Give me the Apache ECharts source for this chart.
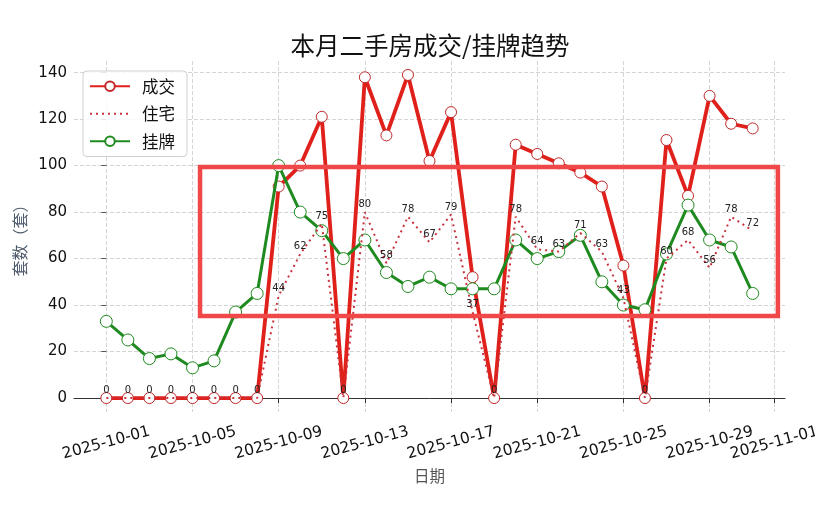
<!DOCTYPE html>
<html>
<head>
<meta charset="utf-8">
<script src="https://cdn.jsdelivr.net/npm/echarts@6/dist/echarts.min.js"></script>
<style>html,body{margin:0;padding:0;background:#fff}#c{width:815px;height:524px}</style>
</head>
<body>
<div id="c"></div>
<script>
const dates = ['2025-10-01','2025-10-02','2025-10-03','2025-10-04','2025-10-05','2025-10-06','2025-10-07','2025-10-08','2025-10-09','2025-10-10','2025-10-11','2025-10-12','2025-10-13','2025-10-14','2025-10-15','2025-10-16','2025-10-17','2025-10-18','2025-10-19','2025-10-20','2025-10-21','2025-10-22','2025-10-23','2025-10-24','2025-10-25','2025-10-26','2025-10-27','2025-10-28','2025-10-29','2025-10-30','2025-10-31'];
const deals = [0,0,0,0,0,0,0,0,91,100,121,0,138,113,139,102,123,52,0,109,105,101,97,91,57,0,111,87,130,118,116];
const residential = [0,0,0,0,0,0,0,0,44,62,75,0,80,58,78,67,79,37,0,78,64,63,71,63,43,0,60,68,56,78,72];
const listings = [33,25,17,19,13,16,37,45,100,80,72,60,68,54,48,52,47,47,47,68,60,63,70,50,40,38,62,83,68,65,45];
const xTickDates = ['2025-10-01','2025-10-05','2025-10-09','2025-10-13','2025-10-17','2025-10-21','2025-10-25','2025-10-29','2025-11-01'];
const yTicks = [0,20,40,60,80,100,120,140];

const DAY = 86400000;
const base = Date.parse(dates[0]);
const off = d => Math.round((Date.parse(d) - base) / DAY);
const xTicks = xTickDates.map(off);
const tickLabel = {};
xTickDates.forEach(d => { tickLabel[off(d)] = d; });

const FONT = 'Noto Sans CJK SC';
const NUMFONT = 'DejaVu Sans';
const RED = '#e0201b';
const GREEN = '#1f8a1f';
const DOT = '#c8323c';

const chart = echarts.init(document.getElementById('c'), null, {renderer: 'canvas'});
const option = {
  animation: false,
  backgroundColor: '#fff',
  textStyle: {fontFamily: FONT},
  title: {
    text: '本月二手房成交/挂牌趋势',
    left: 425, top: 28, textAlign: 'center',
    textStyle: {fontFamily: FONT, fontSize: 24.5, fontWeight: 'normal', color: '#111'}
  },
  legend: {
    orient: 'vertical', left: 83, top: 71,
    padding: [7, 12, 7, 6], itemGap: 11, itemWidth: 40, itemHeight: 12,
    borderColor: '#d0d0d0', borderWidth: 1, borderRadius: 4,
    backgroundColor: 'rgba(255,255,255,0.85)',
    textStyle: {fontFamily: FONT, fontSize: 16.5, color: '#111', padding: [0, 0, 0, 7]},
    data: ['成交', '住宅', '挂牌']
  },
  grid: {left: 74, right: 30, top: 61, bottom: 112, containLabel: false, outerBoundsMode: 'none'},
  xAxis: {
    type: 'value', min: -1.5, max: 31.5,
    name: '日期', nameLocation: 'middle', nameGap: 56,
    nameTextStyle: {fontFamily: FONT, fontSize: 15.5, color: '#555'},
    axisLine: {show: true, lineStyle: {color: '#333', width: 1}},
    axisTick: {show: true, length: 5, lineStyle: {color: '#333'}, customValues: xTicks},
    axisLabel: {
      customValues: xTicks, rotate: 15, align: 'center', verticalAlign: 'middle', margin: 31,
      fontFamily: NUMFONT, fontSize: 15.5, color: '#111', hideOverlap: false,
      formatter: v => tickLabel[Math.round(v)] || ''
    },
    splitLine: {show: true, lineStyle: {type: 'dashed', color: '#d4d4d4', width: 1}}
  },
  yAxis: {
    type: 'value', min: -6, max: 145,
    name: '套数（套）', nameLocation: 'middle', nameGap: 34, nameRotate: 90,
    nameTextStyle: {fontFamily: FONT, fontSize: 16, color: '#4d5b6b'},
    axisLine: {show: false},
    axisTick: {show: true, length: 5, lineStyle: {color: '#555'}, customValues: yTicks},
    axisLabel: {customValues: yTicks, fontFamily: NUMFONT, fontSize: 15, color: '#111', margin: 7},
    splitLine: {show: true, lineStyle: {type: 'dashed', color: '#d4d4d4', width: 1}}
  },
  series: [
    {
      name: '成交', type: 'line', z: 3,
      data: dates.map((d, i) => [off(d), deals[i]]),
      symbol: 'circle', symbolSize: 11, showAllSymbol: true,
      lineStyle: {color: RED, width: 3.8},
      itemStyle: {color: '#fff', borderColor: '#c0282a', borderWidth: 1}
    },
    {
      name: '住宅', type: 'line', z: 6,
      data: dates.map((d, i) => [off(d), residential[i]]),
      symbol: 'circle', symbolSize: 1, showAllSymbol: true,
      lineStyle: {color: DOT, width: 2, type: [2, 4]},
      itemStyle: {color: 'rgba(0,0,0,0)', borderWidth: 0},
      label: {show: true, position: 'top', distance: 2, fontFamily: NUMFONT, fontSize: 10, color: '#222'}
    },
    {
      name: '挂牌', type: 'line', z: 5,
      data: dates.map((d, i) => [off(d), listings[i]]),
      symbol: 'circle', symbolSize: 12, showAllSymbol: true,
      lineStyle: {color: GREEN, width: 3},
      itemStyle: {color: '#fff', borderColor: GREEN, borderWidth: 1}
    }
  ]
};
chart.setOption(option);

// highlight box annotation drawn through the chart's scales
const p1 = chart.convertToPixel({gridIndex: 0}, [4.35, 99.4]);
const p2 = chart.convertToPixel({gridIndex: 0}, [31.17, 35.3]);
chart.setOption({
  graphic: [{
    type: 'rect', z: 100,
    shape: {x: p1[0], y: p1[1], width: p2[0] - p1[0], height: p2[1] - p1[1]},
    style: {fill: 'none', stroke: '#f04848', lineWidth: 4.5}
  }]
});
</script>
</body>
</html>
